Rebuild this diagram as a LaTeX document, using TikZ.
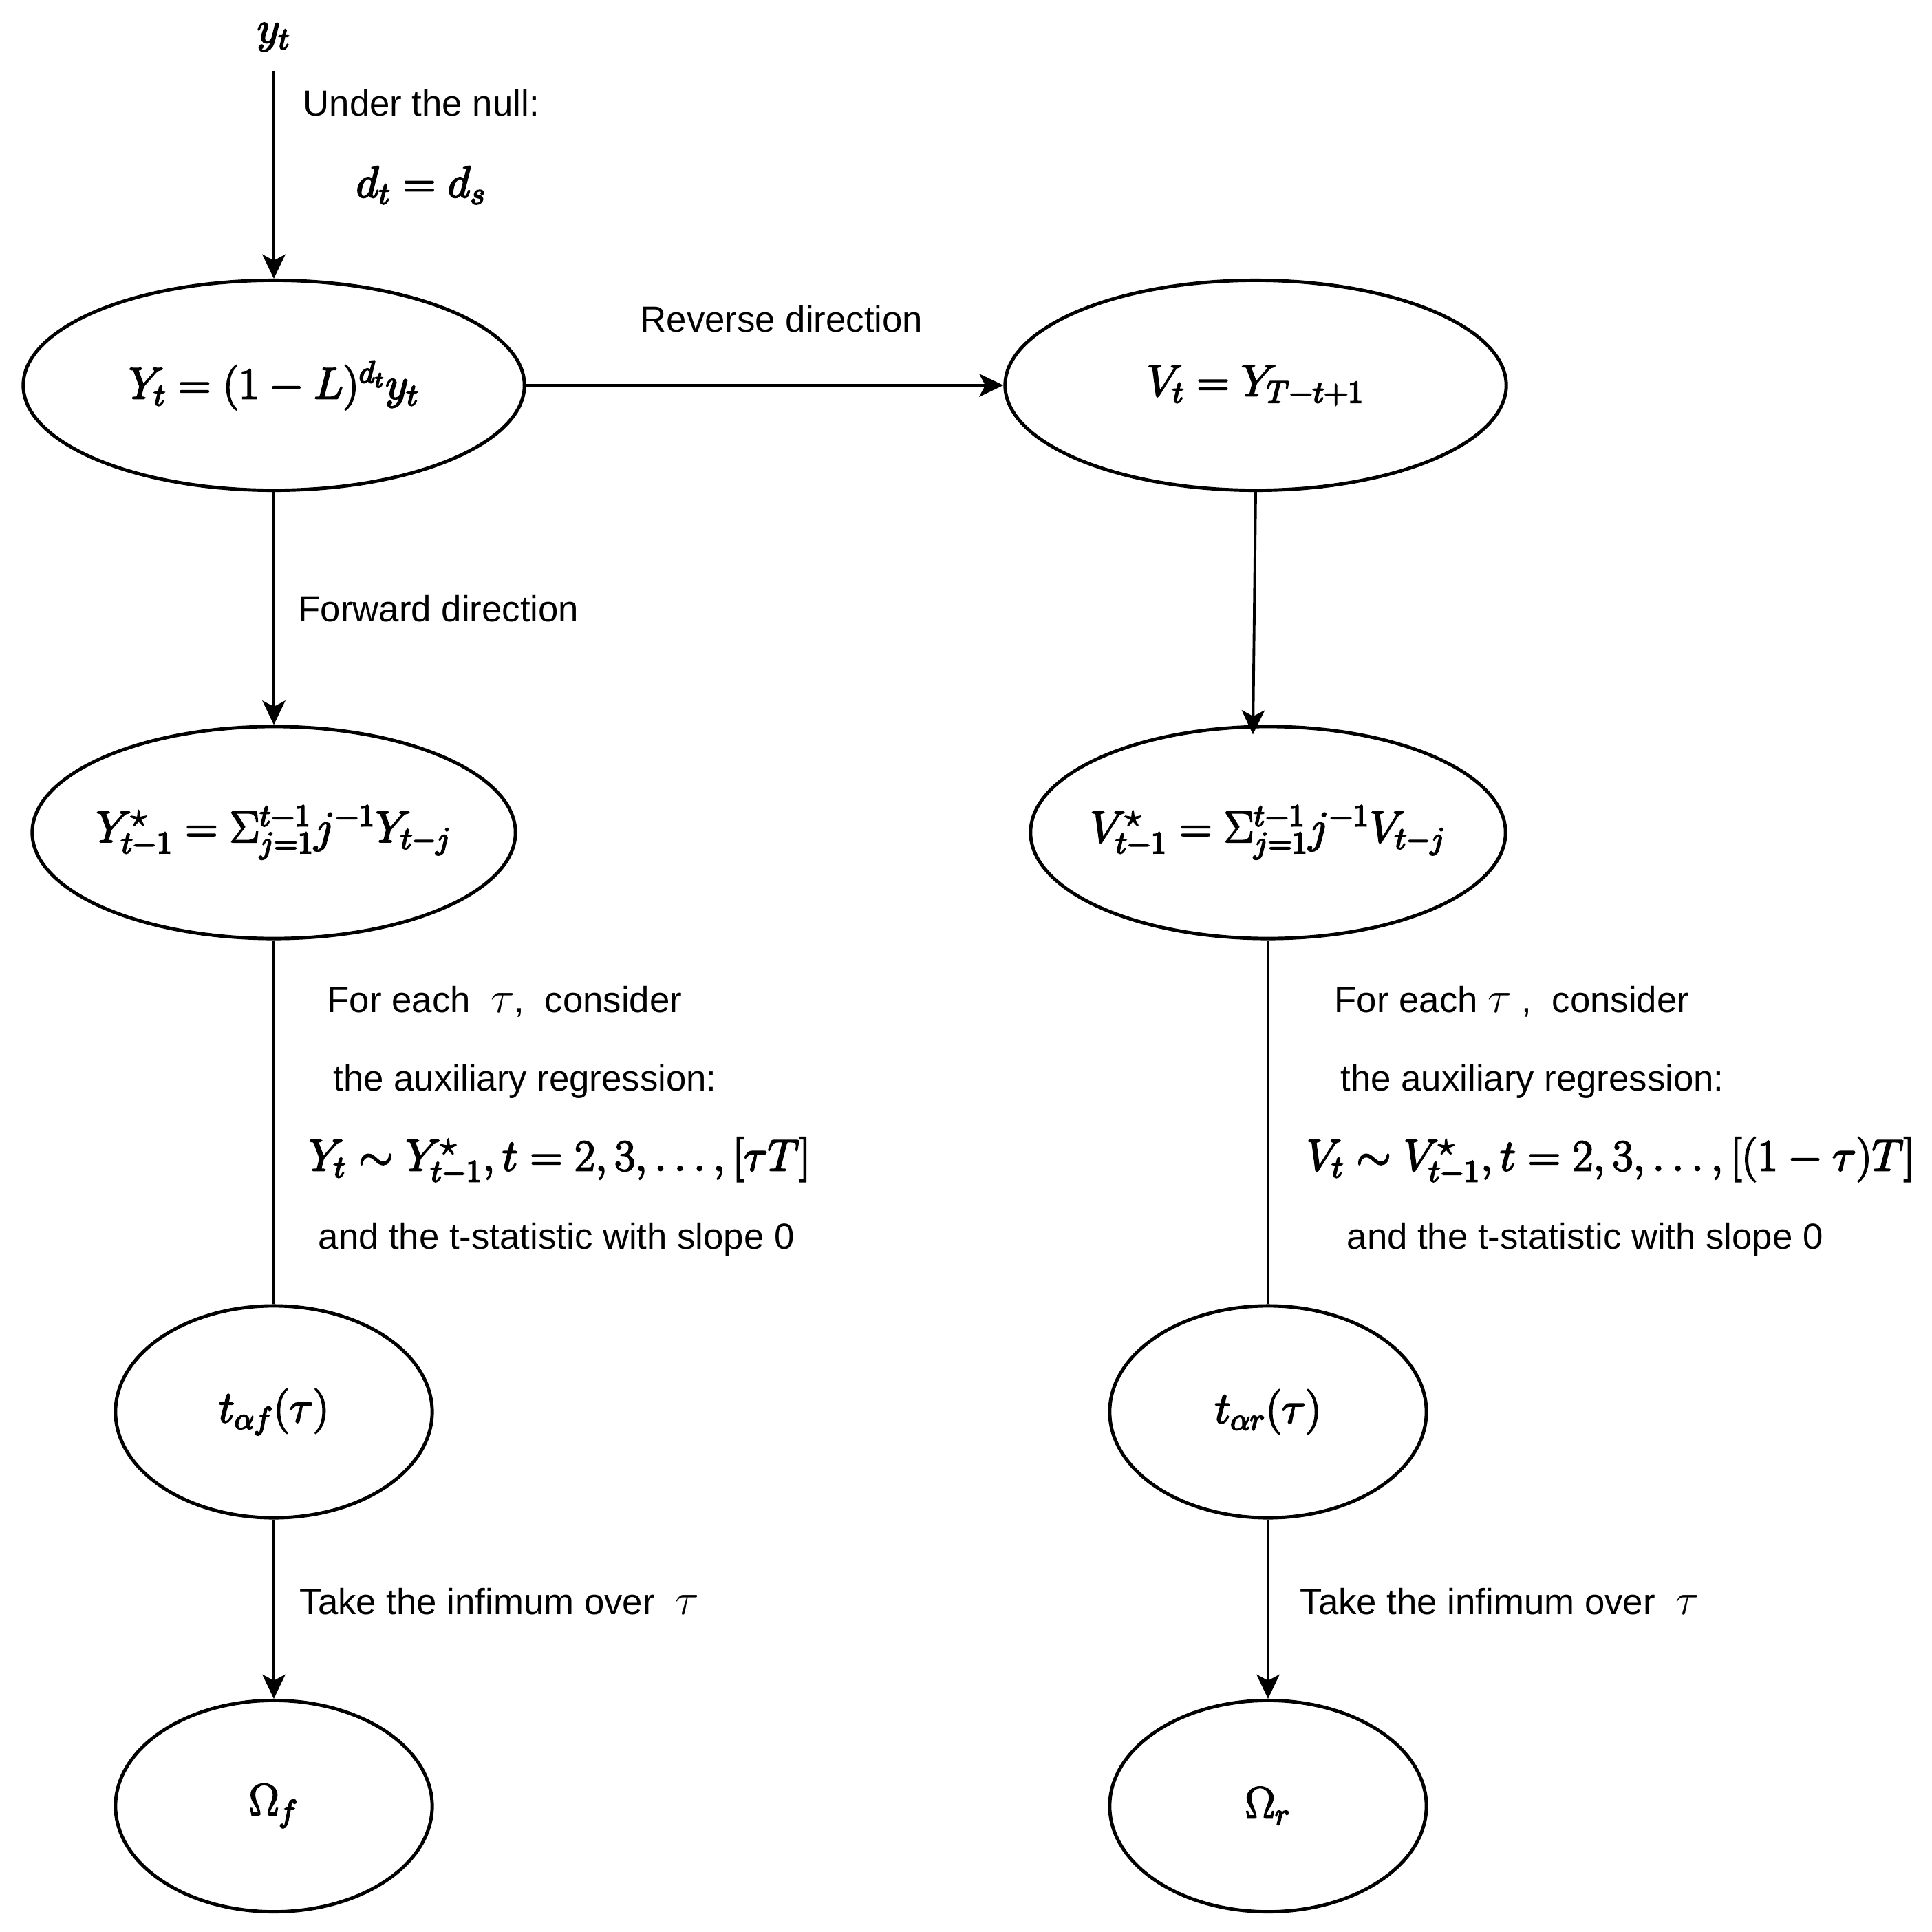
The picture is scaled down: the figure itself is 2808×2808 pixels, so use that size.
\documentclass[tikz,border=0pt]{standalone}
\usepackage{fix-cm}
\usepackage[no-math]{fontspec}
\setmainfont{Liberation Sans}
\usetikzlibrary{shapes.geometric,arrows.meta}
\newcommand{\fb}[1]{\special{pdf:literal direct 2 Tr 0.6 w}#1\special{pdf:literal direct 0 Tr}}
\newcommand{\ellbox}[1]{\makebox[0pt]{\fb{#1}}}
\newcommand{\tauL}{{\fontsize{18.4}{21}\selectfont$\tau$}}
\begin{document}
\begin{tikzpicture}[x=0.01cm,y=-0.01cm,
  ell/.style={draw, ellipse, line width=1.4pt, inner sep=0pt, font=\fontsize{18.4}{21}\selectfont},
  arr/.style={-{Stealth[length=10pt,width=9.5pt,inset=2.5pt]}, line width=1.1pt},
  conn/.style={line width=1.1pt},
  lbl/.style={font=\fontsize{15}{18}\selectfont, inner sep=0pt, anchor=west},
  mlbl/.style={font=\fontsize{18.4}{21}\selectfont, inner sep=0pt, anchor=west}]
\useasboundingbox (0,0) rectangle (2808,2808);
% nodes
\node[font=\fontsize{18.4}{21}\selectfont, inner sep=0pt, minimum height=0.96cm] (y) at (398,54) {\fb{$y_t$}};
\node[ell, minimum width=7.28cm, minimum height=3.05cm] (Y) at (398,560) {\ellbox{$Y_t = (1-L)^{d_t} y_t$}};
\node[ell, minimum width=7.28cm, minimum height=3.05cm] (V) at (1825,560) {\ellbox{$V_t = Y_{T-t+1}$}};
\node[ell, minimum width=7.02cm, minimum height=3.08cm] (Ys) at (398,1210) {\ellbox{$Y^{\star}_{t-1} = \Sigma_{j=1}^{t-1} j^{-1} Y_{t-j}$}};
\node[ell, minimum width=6.90cm, minimum height=3.08cm] (Vs) at (1843,1210) {\ellbox{$V^{\star}_{t-1} = \Sigma_{j=1}^{t-1} j^{-1} V_{t-j}$}};
\node[ell, minimum width=4.60cm, minimum height=3.08cm] (taf) at (398,2052) {\ellbox{$t_{\alpha f}(\tau)$}};
\node[ell, minimum width=4.60cm, minimum height=3.08cm] (tar) at (1843,2052) {\ellbox{$t_{\alpha r}(\tau)$}};
\node[ell, minimum width=4.60cm, minimum height=3.07cm] (Of) at (398,2625) {\ellbox{$\Omega_f$}};
\node[ell, minimum width=4.60cm, minimum height=3.07cm] (Or) at (1843,2625) {\ellbox{$\Omega_r$}};
% labels
\node[lbl] (l1) at (440,150) {Under the null:};
\node[mlbl, anchor=center] (l2) at (612,269) {\fb{$d_t = d_s$}};
\node[lbl, anchor=center] (l3) at (1136,464) {Reverse direction};
\node[lbl] (l4) at (433,885) {Forward direction};
\node[lbl] (lf1) at (475,1456) {For each\ \ \tauL,\ \ consider};
\node[lbl] (lf2) at (484,1572) {the auxiliary regression:};
\node[mlbl] (lf3) at (448,1687) {\fb{$Y_t \sim Y^{\star}_{t-1}, t = 2, 3, \ldots, [\tau T]$}};
\node[lbl] (lf4) at (462,1802) {and the t-statistic with slope 0};
\node[lbl] (lr1) at (1939,1456) {For each \tauL\ ,\ \ consider};
\node[lbl] (lr2) at (1948,1572) {the auxiliary regression:};
\node[mlbl] (lr3) at (1898,1687) {\fb{$V_t \sim V^{\star}_{t-1}, t = 2, 3, \ldots, [(1-\tau)T]$}};
\node[lbl] (lr4) at (1957,1802) {and the t-statistic with slope 0};
\node[lbl] (lt1) at (435,2328) {Take the infimum over\ \ \tauL};
\node[lbl] (lt2) at (1889,2328) {Take the infimum over\ \ \tauL};
% connectors
\draw[arr] (y.south) -- (Y.north);
\draw[arr] (Y.east) -- (V.west);
\draw[arr] (Y.south) -- (Ys.north);
\draw[arr] (V.south) -- ([shift={(-22,14)}]Vs.north);
\draw[conn] (Ys.south) -- (taf.north);
\draw[conn] (Vs.south) -- (tar.north);
\draw[arr] (taf.south) -- (Of.north);
\draw[arr] (tar.south) -- (Or.north);
\end{tikzpicture}
\end{document}
